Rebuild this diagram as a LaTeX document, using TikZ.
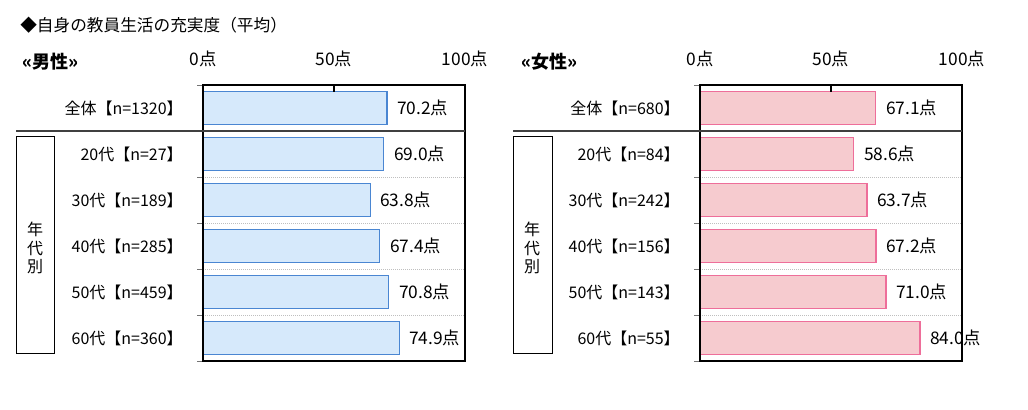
\documentclass[tikz,border=0pt]{standalone}
\usepackage{fontspec}
\setmainfont{Noto Sans CJK JP}
\usetikzlibrary{positioning}

\definecolor{menfill}{HTML}{D6E9FB}
\definecolor{menline}{HTML}{4A86D2}
\definecolor{womenfill}{HTML}{F6CBCF}
\definecolor{womenline}{HTML}{EE6E9A}

\tikzset{
    txt/.style={inner sep=0pt, font=\fontsize{12}{14}\selectfont},
    num/.style={inner sep=0pt, font=\fontsize{13}{15}\selectfont},
    lab/.style={txt, anchor=east},
    val/.style={num, anchor=west},
    frame/.style={line width=0.9pt},
    sepline/.style={line width=1.5pt, black!75},
    gridline/.style={black!25, densely dotted, line width=0.5pt},
    tick/.style={black!55, line width=0.6pt},
    menbar/.style={draw=menline, fill=menfill, line width=1pt},
    womenbar/.style={draw=womenline, fill=womenfill, line width=1pt}
}

\begin{document}
\begin{tikzpicture}[x=0.75pt,y=-0.75pt]
    \useasboundingbox (0,0) rectangle (1028,410);
    \node[txt, anchor=west, font=\fontsize{12.5}{14}\selectfont] (title) at (20,25) {◆自身の教員生活の充実度（平均）};

    % men
    \node[txt, anchor=west, font=\fontsize{13.5}{15}\selectfont\bfseries] (men) at (22,62) {«男性»};
    \node[num] (m0pt) at (203,59) {0点};
    \node[num] (m50pt) at (334,59) {50点};
    \node[num] (m100pt) at (465,59) {100点};
    \draw[menbar] (203,91.5) rectangle (386.9,124.5);
    \draw[menbar] (203,137.5) rectangle (383.8,170.5);
    \draw[menbar] (203,183.5) rectangle (370.2,216.5);
    \draw[menbar] (203,229.5) rectangle (379.6,262.5);
    \draw[menbar] (203,275.5) rectangle (388.5,308.5);
    \draw[menbar] (203,321.5) rectangle (399.2,354.5);
    \draw[gridline] (203,177) -- (465,177) (203,223) -- (465,223) (203,269) -- (465,269) (203,315) -- (465,315);
    \draw[tick] (197,85) -- (203,85) (197,131) -- (203,131) (197,177) -- (203,177) (197,223) -- (203,223) (197,269) -- (203,269) (197,315) -- (203,315) (197,361) -- (203,361);
    \draw[frame] (203,85) rectangle (465,361) (334,85) -- (334,92);
    \draw[sepline] (16,131) -- (465,131);
    \draw (16,136) rectangle (54,353);
    \node[txt, align=center] (mage) at (35,248) {年\\代\\別};
    \node[lab] (m0) at (183,108) {全体【n=1320】};
    \node[lab] (m1) at (183,154) {20代【n=27】};
    \node[lab] (m2) at (183,200) {30代【n=189】};
    \node[lab] (m3) at (183,246) {40代【n=285】};
    \node[lab] (m4) at (183,292) {50代【n=459】};
    \node[lab] (m5) at (183,338) {60代【n=360】};
    \node[val] (m0v) at (397,108) {70.2点};
    \node[val] (m1v) at (394,154) {69.0点};
    \node[val] (m2v) at (380,200) {63.8点};
    \node[val] (m3v) at (390,246) {67.4点};
    \node[val] (m4v) at (399,292) {70.8点};
    \node[val] (m5v) at (409,338) {74.9点};

    % women
    \node[txt, anchor=west, font=\fontsize{13.5}{15}\selectfont\bfseries] (women) at (521,62) {«女性»};
    \node[num] (w0pt) at (700,59) {0点};
    \node[num] (w50pt) at (831,59) {50点};
    \node[num] (w100pt) at (962,59) {100点};
    \draw[womenbar] (700,91.5) rectangle (875.8,124.5);
    \draw[womenbar] (700,137.5) rectangle (853.5,170.5);
    \draw[womenbar] (700,183.5) rectangle (866.9,216.5);
    \draw[womenbar] (700,229.5) rectangle (876.1,262.5);
    \draw[womenbar] (700,275.5) rectangle (886.0,308.5);
    \draw[womenbar] (700,321.5) rectangle (920.1,354.5);
    \draw[gridline] (700,177) -- (962,177) (700,223) -- (962,223) (700,269) -- (962,269) (700,315) -- (962,315);
    \draw[tick] (694,85) -- (700,85) (694,131) -- (700,131) (694,177) -- (700,177) (694,223) -- (700,223) (694,269) -- (700,269) (694,315) -- (700,315) (694,361) -- (700,361);
    \draw[frame] (700,85) rectangle (962,361) (831,85) -- (831,92);
    \draw[sepline] (513,131) -- (962,131);
    \draw (513,136) rectangle (552,353);
    \node[txt, align=center] (wage) at (532,248) {年\\代\\別};
    \node[lab] (w0) at (680,108) {全体【n=680】};
    \node[lab] (w1) at (680,154) {20代【n=84】};
    \node[lab] (w2) at (680,200) {30代【n=242】};
    \node[lab] (w3) at (680,246) {40代【n=156】};
    \node[lab] (w4) at (680,292) {50代【n=143】};
    \node[lab] (w5) at (680,338) {60代【n=55】};
    \node[val] (w0v) at (886,108) {67.1点};
    \node[val] (w1v) at (864,154) {58.6点};
    \node[val] (w2v) at (877,200) {63.7点};
    \node[val] (w3v) at (886,246) {67.2点};
    \node[val] (w4v) at (896,292) {71.0点};
    \node[val] (w5v) at (930,338) {84.0点};
\end{tikzpicture}
\end{document}
